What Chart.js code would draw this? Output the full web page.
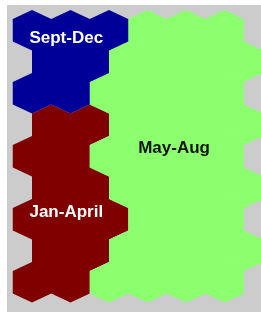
<!DOCTYPE html>
<html>
<head>
<meta charset="utf-8">
<script src="https://cdn.jsdelivr.net/npm/chart.js@4/dist/chart.umd.min.js"></script>
<style>
  html, body { margin: 0; padding: 0; background: #ffffff; }
  #wrap { width: 261px; height: 314px; }
</style>
</head>
<body>
<div id="wrap"><canvas id="c" width="261" height="314"></canvas></div>
<script>
// ---- data: tiles as [row, column] of a hexagonal tile map ----
const categories = ['Jan-April', 'May-Aug', 'Sept-Dec'];
const janAprilTiles = [[3,0],[3,1],[4,0],[4,1],[5,0],[5,1],[6,0],[6,1],[6,2],[7,0],[7,1],[8,0],[8,1]];
const mayAugTiles = [[0,3],[0,4],[0,5],[1,2],[1,3],[1,4],[1,5],[2,2],[2,3],[2,4],[2,5],
  [3,2],[3,3],[3,4],[3,5],[4,2],[4,3],[4,4],[4,5],[5,2],[5,3],[5,4],[5,5],
  [6,3],[6,4],[6,5],[7,2],[7,3],[7,4],[7,5],[8,2],[8,3],[8,4],[8,5]];
const sepDecTiles = [[0,0],[0,1],[0,2],[1,0],[1,1],[2,0],[2,1]];

const seriesTiles = [janAprilTiles, mayAugTiles, sepDecTiles];
const seriesColors = ['#800000', '#8cff6e', '#000099'];
const labelColors = ['#ffffff', '#111111', '#ffffff'];
// label anchor positions in data units (column, row)
const labelAnchors = [{x: 0.89, y: 5.94}, {x: 3.69, y: 3.91}, {x: 0.89, y: 0.405}];

function toPoints(tiles) {
  return tiles.map(([r, c]) => ({ x: c + (r % 2) * 0.5, y: r }));
}

const hexPlugin = {
  id: 'hexTiles',
  beforeDraw(chart) {
    const { ctx, chartArea: a } = chart;
    ctx.save();
    ctx.fillStyle = '#cccccc';
    ctx.fillRect(a.left, a.top, a.right - a.left, a.bottom - a.top);
    ctx.restore();
  },
  afterDatasetsDraw(chart) {
    const { ctx } = chart;
    const xs = chart.scales.x, ys = chart.scales.y;
    const peak = 0.643, shoulder = 0.357;
    ctx.save();
    chart.data.datasets.forEach((ds, i) => {
      ctx.beginPath();
      ds.data.forEach(p => {
        const xl = xs.getPixelForValue(p.x - 0.5);
        const xc = xs.getPixelForValue(p.x);
        const xr = xs.getPixelForValue(p.x + 0.5);
        const yt = ys.getPixelForValue(p.y - peak);
        const ys1 = ys.getPixelForValue(p.y - shoulder);
        const ys2 = ys.getPixelForValue(p.y + shoulder);
        const yb = ys.getPixelForValue(p.y + peak);
        ctx.moveTo(xc, yt);
        ctx.lineTo(xr, ys1);
        ctx.lineTo(xr, ys2);
        ctx.lineTo(xc, yb);
        ctx.lineTo(xl, ys2);
        ctx.lineTo(xl, ys1);
        ctx.closePath();
      });
      ctx.fillStyle = ds.backgroundColor;
      ctx.fill();
    });
    // labels
    ctx.font = 'bold 17px "Liberation Sans", Arial, sans-serif';
    ctx.textAlign = 'center';
    ctx.textBaseline = 'alphabetic';
    chart.data.datasets.forEach((ds, i) => {
      const an = labelAnchors[i];
      ctx.fillStyle = labelColors[i];
      ctx.fillText(ds.label, xs.getPixelForValue(an.x), ys.getPixelForValue(an.y));
    });
    ctx.restore();
  }
};

new Chart(document.getElementById('c'), {
  type: 'scatter',
  data: {
    datasets: categories.map((name, i) => ({
      label: name,
      data: toPoints(seriesTiles[i]),
      backgroundColor: seriesColors[i],
      pointRadius: 0,
      pointHoverRadius: 0
    }))
  },
  options: {
    responsive: false,
    animation: false,
    devicePixelRatio: 1,
    layout: { padding: { left: 7, top: 5, right: 0, bottom: 2 } },
    plugins: { legend: { display: false }, tooltip: { enabled: false } },
    scales: {
      x: { type: 'linear', min: -0.6494, max: 5.948, display: false },
      y: { type: 'linear', min: -0.8016, max: 8.945, reverse: true, display: false }
    }
  },
  plugins: [hexPlugin]
});
</script>
</body>
</html>
